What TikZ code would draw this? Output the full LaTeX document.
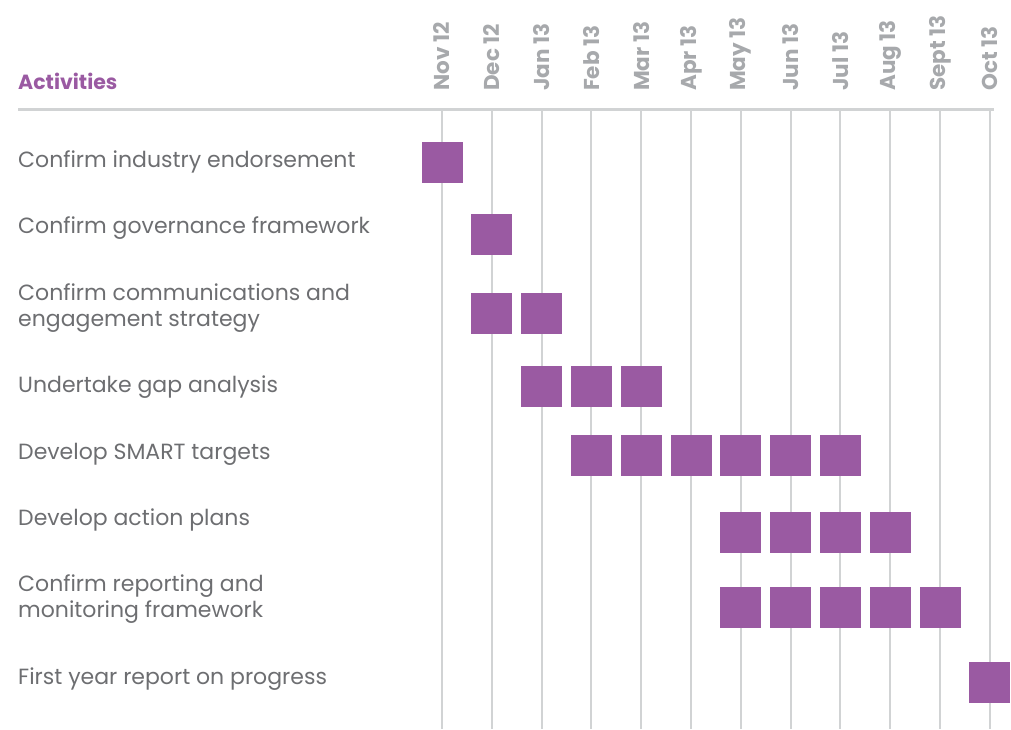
\documentclass[tikz,border=0pt]{standalone}
\usepackage{fontspec}
\setmainfont{Poppins}
\usepackage{tikz}
\usetikzlibrary{calc}
\definecolor{plum}{HTML}{9A5AA2}
\definecolor{txtgrey}{HTML}{6D6E71}
\definecolor{monthgrey}{HTML}{A7A9AC}
\definecolor{rulegrey}{HTML}{D1D3D4}

\begin{document}
\begin{tikzpicture}[x=1pt,y=-1pt,
    task/.style={anchor=west,text=txtgrey,align=left,inner sep=0pt,
      font=\fontsize{22}{26}\selectfont},
    month/.style={rotate=90,anchor=west,text=monthgrey,inner sep=0pt,
      font=\bfseries\fontsize{21.5}{22}\selectfont},
    cell/.style={fill=plum,minimum size=41pt,inner sep=0pt}]
        \useasboundingbox (0,0) rectangle (1011,729);
        \node[anchor=west,inner sep=0pt,text=plum,font=\bfseries\fontsize{20.5}{24}\selectfont]
          (head) at (18,81) {Activities};
        \draw[rulegrey,line width=3pt] (18,109) coordinate (rl) -- (994,109) coordinate (rr);
        \foreach \m [count=\i from 0] in {Nov 12,Dec 12,Jan 13,Feb 13,Mar 13,Apr 13,
            May 13,Jun 13,Jul 13,Aug 13,Sept 13,Oct 13} {
          \coordinate (top\i) at (442+49.8*\i,109);
          \coordinate (bot\i) at (442+49.8*\i,729);
          \draw[rulegrey,line width=2pt] (top\i) -- (bot\i);
          \node[month] (m\i) at (442+49.8*\i,91) {\m};
        }
        \foreach \r/\ty/\by/\txt/\cols in {
            1/162/162/{Confirm industry endorsement}/{0},
            2/228/234/{Confirm governance framework}/{1},
            3/308/313/{Confirm communications and\\engagement strategy}/{1,2},
            4/387/386/{Undertake gap analysis}/{2,3,4},
            5/454/455/{Develop SMART targets}/{3,4,5,6,7,8},
            6/520/532/{Develop action plans}/{6,7,8,9},
            7/599/607/{Confirm reporting and\\monitoring framework}/{6,7,8,9,10},
            8/679/682/{First year report on progress}/{11}} {
          \node[task] (t\r) at (18,\ty) {\txt};
          \foreach \c in \cols {
            \node[cell] (b\r-\c) at ($(top\c)+(0,\by-109)$) {};
          }
        }
      \end{tikzpicture}
\end{document}
